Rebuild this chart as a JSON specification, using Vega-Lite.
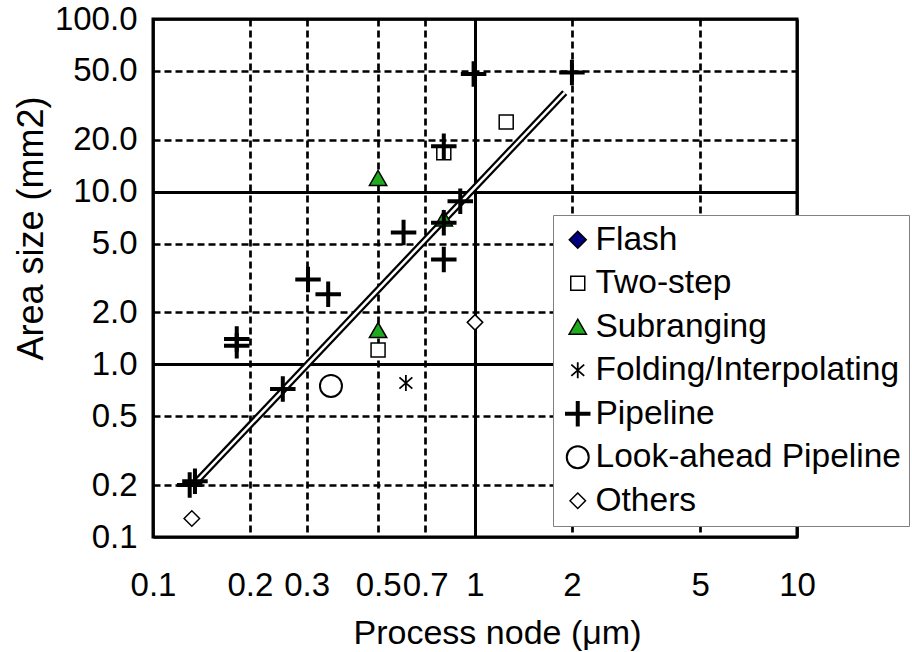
{
  "$schema": "https://vega.github.io/schema/vega-lite/v6.json",
  "width": 644,
  "height": 518,
  "autosize": {"type": "none"},
  "padding": {"left": 153, "top": 19, "right": 115, "bottom": 115},
  "background": "white",
  "config": {
    "font": "Liberation Sans",
    "view": {"stroke": "black", "strokeWidth": 3},
    "axis": {"labelFont": "Liberation Sans", "titleFont": "Liberation Sans", "labelColor": "black", "titleColor": "black", "titleFontWeight": "normal"}
  },
  "datasets": {
    "pts": [
      {"type": "Two-step", "x": 0.8, "y": 16.8},
      {"type": "Two-step", "x": 1.25, "y": 25.3},
      {"type": "Two-step", "x": 0.5, "y": 1.21},
      {"type": "Subranging", "x": 0.5, "y": 12},
      {"type": "Subranging", "x": 0.5, "y": 1.58},
      {"type": "Subranging", "x": 0.8, "y": 7.0},
      {"type": "Folding/Interpolating", "x": 0.61, "y": 0.78},
      {"type": "Look-ahead Pipeline", "x": 0.357, "y": 0.75},
      {"type": "Others", "x": 1.0, "y": 1.75},
      {"type": "Others", "x": 0.132, "y": 0.128},
      {"type": "Pipeline", "x": 0.13, "y": 0.2},
      {"type": "Pipeline", "x": 0.135, "y": 0.21},
      {"type": "Pipeline", "x": 0.182, "y": 1.4},
      {"type": "Pipeline", "x": 0.182, "y": 1.28},
      {"type": "Pipeline", "x": 0.253, "y": 0.72},
      {"type": "Pipeline", "x": 0.303, "y": 3.1},
      {"type": "Pipeline", "x": 0.35, "y": 2.55},
      {"type": "Pipeline", "x": 0.6, "y": 5.8},
      {"type": "Pipeline", "x": 0.8, "y": 6.6},
      {"type": "Pipeline", "x": 0.8, "y": 4.05},
      {"type": "Pipeline", "x": 0.8, "y": 18.3},
      {"type": "Pipeline", "x": 0.9, "y": 8.8},
      {"type": "Pipeline", "x": 0.99, "y": 48},
      {"type": "Pipeline", "x": 2.0, "y": 49}
    ],
    "trend": [
      {"x": 0.135, "y": 0.205},
      {"x": 1.9, "y": 37.5}
    ]
  },
  "layer": [
    {
      "data": {"name": "trend"},
      "mark": {"type": "line", "color": "black", "strokeWidth": 7, "strokeCap": "butt"},
      "encoding": {
        "x": {"field": "x", "type": "quantitative", "scale": {"type": "log", "domain": [0.1, 10], "nice": false}},
        "y": {"field": "y", "type": "quantitative", "scale": {"type": "log", "domain": [0.1, 100], "nice": false}}
      }
    },
    {
      "data": {"name": "trend"},
      "mark": {"type": "line", "color": "white", "strokeWidth": 2.5, "strokeCap": "butt"},
      "encoding": {
        "x": {"field": "x", "type": "quantitative"},
        "y": {"field": "y", "type": "quantitative"}
      }
    },
    {
      "data": {"name": "pts"},
      "mark": {"type": "point", "filled": true, "stroke": "black", "opacity": 1},
      "encoding": {
        "x": {
          "field": "x", "type": "quantitative",
          "scale": {"type": "log", "domain": [0.1, 10], "nice": false},
          "axis": {
            "values": [0.1, 0.2, 0.3, 0.5, 0.7, 1, 2, 5, 10],
            "format": "~g",
            "title": "Process node (μm)",
            "titleFontSize": 34,
            "titleX": 344,
            "titleY": 106,
            "titleBaseline": "alphabetic",
            "titleAnchor": "middle",
            "titleAlign": "center",
            "labelFontSize": 33,
            "labelBaseline": "top",
            "labelPadding": 32,
            "labelFlush": false,
            "labelOverlap": false,
            "ticks": false,
            "domain": false,
            "grid": true,
            "gridColor": "black",
            "gridOpacity": 1,
            "gridWidth": {"condition": {"test": "datum.value === 1", "value": 3}, "value": 2.7},
            "gridDash": {"condition": {"test": "datum.value === 1 || datum.value === 0.1 || datum.value === 10", "value": []}, "value": [7, 4]}
          }
        },
        "y": {
          "field": "y", "type": "quantitative",
          "scale": {"type": "log", "domain": [0.1, 100], "nice": false},
          "axis": {
            "values": [0.1, 0.2, 0.5, 1, 2, 5, 10, 20, 50, 100],
            "format": ".1f",
            "title": "Area size (mm2)",
            "titleFontSize": 36,
            "titleAngle": 270,
            "titleX": -111,
            "titleY": 209,
            "titleBaseline": "alphabetic",
            "titleAlign": "center",
            "labelFontSize": 33,
            "labelBaseline": "middle",
            "labelPadding": 16,
            "labelOverlap": false,
            "labelFlush": false,
            "ticks": false,
            "domain": false,
            "grid": true,
            "gridColor": "black",
            "gridOpacity": 1,
            "gridWidth": {"condition": {"test": "datum.value === 1 || datum.value === 10", "value": 3}, "value": 2.7},
            "gridDash": {"condition": {"test": "datum.value === 1 || datum.value === 10 || datum.value === 0.1 || datum.value === 100", "value": []}, "value": [7, 4]}
          }
        },
        "fill": {
          "field": "type", "type": "nominal",
          "scale": {
            "domain": ["Flash", "Two-step", "Subranging", "Folding/Interpolating", "Pipeline", "Look-ahead Pipeline", "Others"],
            "range": ["#000080", "white", "#1faa1f", "transparent", "transparent", "white", "white"]
          },
          "legend": {"orient": "none", "legendX": 400, "legendY": 196, "title": null, "padding": 8, "gridAlign": "all", "strokeColor": "#808080", "fillColor": "white", "labelFontSize": 33.5, "labelFont": "Liberation Sans", "labelColor": "black", "labelOffset": 1, "labelLimit": 500, "rowPadding": 1.5, "symbolStrokeColor": "black", "symbolOpacity": 1, "encode": {"symbols": {"update": {"stroke": {"value": "black"}, "opacity": {"value": 1}}}}}
        },
        "shape": {
          "field": "type", "type": "nominal",
          "scale": {
            "domain": ["Flash", "Two-step", "Subranging", "Folding/Interpolating", "Pipeline", "Look-ahead Pipeline", "Others"],
            "range": ["diamond", "square", "triangle-up", "M0,-1V1M-0.8,-0.7L0.8,0.7M-0.8,0.7L0.8,-0.7", "M-1,0H1M0,-1V1", "circle", "diamond"]
          },
          "legend": {"orient": "none", "legendX": 400, "legendY": 196, "title": null, "padding": 8, "gridAlign": "all", "strokeColor": "#808080", "fillColor": "white", "labelFontSize": 33.5, "labelFont": "Liberation Sans", "labelColor": "black", "labelOffset": 1, "labelLimit": 500, "rowPadding": 1.5, "symbolStrokeColor": "black", "symbolOpacity": 1, "encode": {"symbols": {"update": {"stroke": {"value": "black"}, "opacity": {"value": 1}}}}}
        },
        "size": {
          "field": "type", "type": "nominal",
          "scale": {
            "type": "ordinal",
            "domain": ["Flash", "Two-step", "Subranging", "Folding/Interpolating", "Pipeline", "Look-ahead Pipeline", "Others"],
            "range": [289, 196, 300, 260, 650, 484, 240]
          },
          "legend": {"orient": "none", "legendX": 400, "legendY": 196, "title": null, "padding": 8, "gridAlign": "all", "strokeColor": "#808080", "fillColor": "white", "labelFontSize": 33.5, "labelFont": "Liberation Sans", "labelColor": "black", "labelOffset": 1, "labelLimit": 500, "rowPadding": 1.5, "symbolStrokeColor": "black", "symbolOpacity": 1, "encode": {"symbols": {"update": {"stroke": {"value": "black"}, "opacity": {"value": 1}}}}}
        },
        "strokeWidth": {
          "field": "type", "type": "nominal",
          "scale": {
            "type": "ordinal",
            "domain": ["Flash", "Two-step", "Subranging", "Folding/Interpolating", "Pipeline", "Look-ahead Pipeline", "Others"],
            "range": [1.5, 1.5, 1.5, 1.8, 4, 2, 1.5]
          },
          "legend": {"orient": "none", "legendX": 400, "legendY": 196, "title": null, "padding": 8, "gridAlign": "all", "strokeColor": "#808080", "fillColor": "white", "labelFontSize": 33.5, "labelFont": "Liberation Sans", "labelColor": "black", "labelOffset": 1, "labelLimit": 500, "rowPadding": 1.5, "symbolStrokeColor": "black", "symbolOpacity": 1, "encode": {"symbols": {"update": {"stroke": {"value": "black"}, "opacity": {"value": 1}}}}}
        }
      }
    }
  ]
}
